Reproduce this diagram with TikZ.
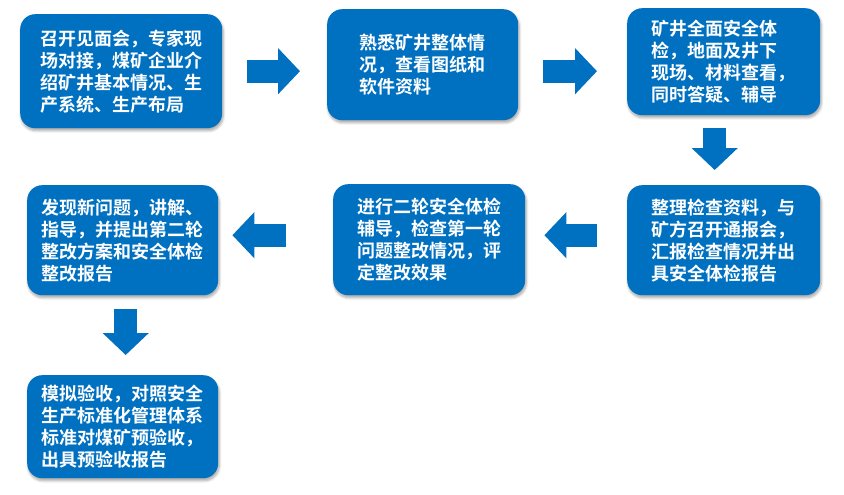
\documentclass[tikz,border=0pt]{standalone}
\usepackage{fontspec}
\newfontfamily\cjk{Noto Sans CJK SC}[BoldFont={Noto Sans CJK SC Bold}]
\usetikzlibrary{positioning,arrows.meta,shadows.blur}
\definecolor{boxblue}{HTML}{0070C0}
\tikzset{
  soft shadow/.style={blur shadow={shadow blur steps=6, shadow xshift=1pt,
    shadow yshift=-2.5pt, shadow blur radius=2.5pt, shadow opacity=35}},
  stepbox/.style={rounded corners=15pt, fill=boxblue, text=white, anchor=north west,
    align=left, inner sep=0pt, soft shadow,
    font=\cjk\bfseries\fontsize{18}{22}\selectfont},
  fat/.style={draw=boxblue, line width=23pt, -{Triangle[length=22pt,width=45pt]}},
}

\begin{document}
\begin{tikzpicture}[x=1pt,y=-1pt]
  \useasboundingbox (0,0) rectangle (844,495);
  % top row
  \node[stepbox, minimum width=202pt, minimum height=114pt] (meet) at (20,14)
    {召开见面会，专家现\\场对接，煤矿企业介\\绍矿井基本情况、生\\产系统、生产布局};
  \node[stepbox, minimum width=191pt, minimum height=111pt] (know) at (327,9)
    {熟悉矿井整体情\\况，查看图纸和\\软件资料};
  \node[stepbox, minimum width=193pt, minimum height=107pt] (check) at (627,8)
    {矿井全面安全体\\检，地面及井下\\现场、材料查看，\\同时答疑、辅导};
  % middle row
  \node[stepbox, minimum width=193pt, minimum height=110pt] (report) at (627,185)
    {整理检查资料，与\\矿方召开通报会，\\汇报检查情况并出\\具安全体检报告};
  \node[stepbox, minimum width=192pt, minimum height=111pt] (second) at (333,184)
    {进行二轮安全体检\\辅导，检查第一轮\\问题整改情况，评\\定整改效果};
  \node[stepbox, minimum width=191pt, minimum height=110pt] (plan) at (27,185)
    {发现新问题，讲解、\\指导，并提出第二轮\\整改方案和安全体检\\整改报告};
  % bottom
  \node[stepbox, minimum width=191pt, minimum height=103pt] (accept) at (27,375)
    {模拟验收，对照安全\\生产标准化管理体系\\标准对煤矿预验收，\\出具预验收报告};

  \draw[fat, shorten <=25pt, shorten >=27pt] (meet.east) -- (meet.east -| know.west);
  \draw[fat, shorten <=25pt, shorten >=30pt] (know.east |- meet.east) -- (meet.east -| check.west);
  \draw[fat, shorten <=13pt, shorten >=15pt] ([xshift=-9pt]check.south) -- ([xshift=-9pt]report.north);
  \draw[fat, shorten <=30pt, shorten >=19pt] ([yshift=5pt]report.west) -- ([yshift=5pt]report.west -| second.east);
  \draw[fat, shorten <=47pt, shorten >=14pt] ([yshift=5pt]report.west -| second.west) -- ([yshift=5pt]report.west -| plan.east);
  \draw[fat, shorten <=14pt, shorten >=20pt] ([xshift=3pt]plan.south) -- ([xshift=3pt]accept.north);
\end{tikzpicture}
\end{document}
